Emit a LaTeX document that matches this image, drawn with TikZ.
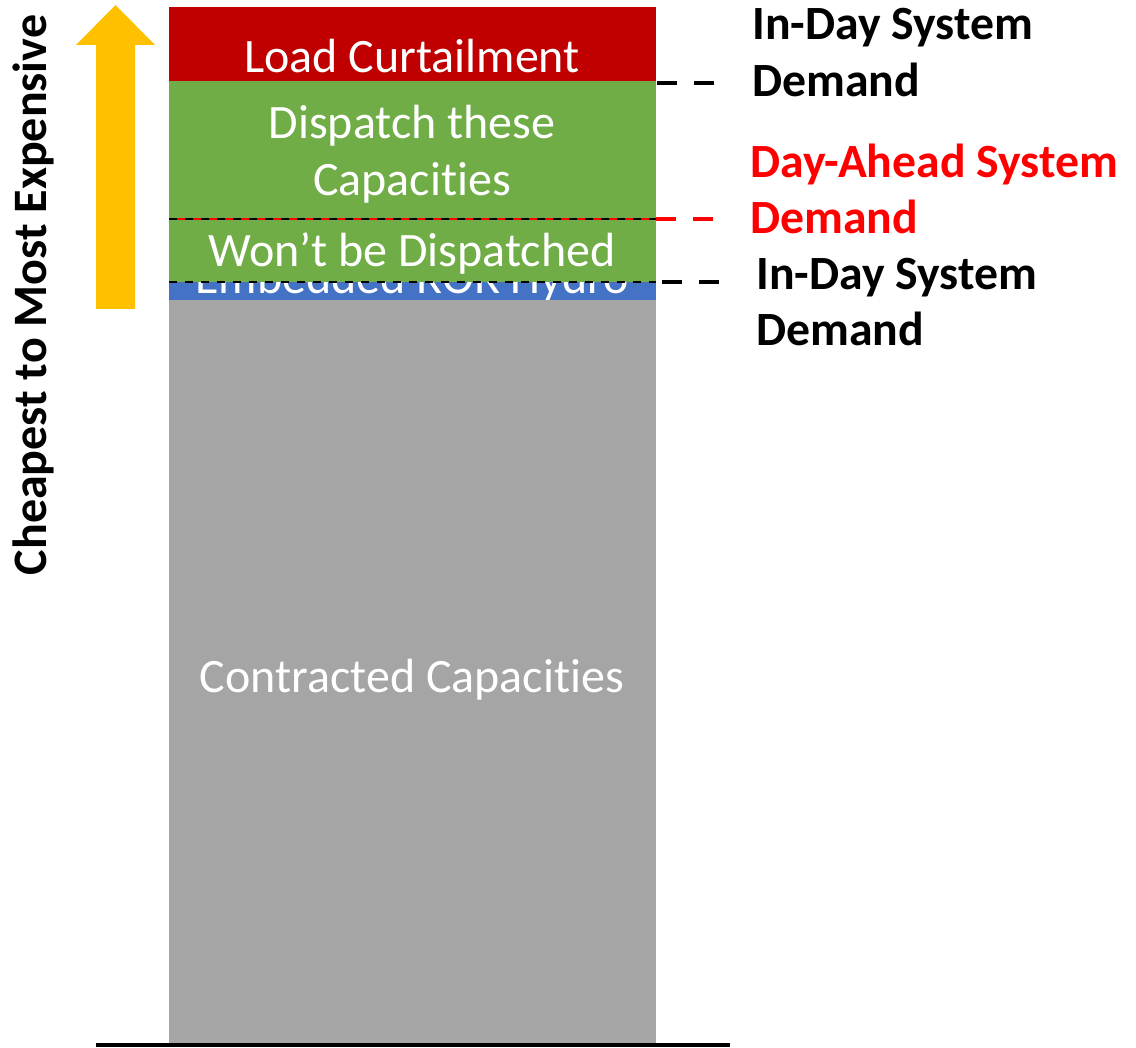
\documentclass[tikz,border=0pt]{standalone}
\usepackage{fontspec}
\setmainfont[Ligatures={NoCommon}]{Carlito}
\definecolor{cred}{HTML}{C00000}
\definecolor{cgreen}{HTML}{70AD47}
\definecolor{cblue}{HTML}{4472C4}
\definecolor{cgray}{HTML}{A5A5A5}
\definecolor{cyellow}{HTML}{FFC000}
\definecolor{tred}{HTML}{FF0000}
\begin{document}
\begin{tikzpicture}[x=0.75pt,y=-0.75pt,
  bartext/.style={text=white,font=\fontsize{36}{43}\selectfont,anchor=base,inner sep=0pt},
  lbl/.style={font=\bfseries\fontsize{35.8}{43}\selectfont,anchor=base west,inner sep=0pt},
  mk/.style={line width=3pt,dash pattern=on 15pt off 13pt}]
\useasboundingbox (0,0) rectangle (1136,1048);
% bar blocks
\fill[cgray] (169,300) rectangle (656,1045);
\fill[cblue] (169,282) rectangle (656,300);
\begin{scope}
\clip (169,282) rectangle (656,300);
\node[bartext] (ror) at (412,294) {Embedded ROR Hydro};
\end{scope}
\fill[cgreen] (169,219) rectangle (656,282);
\fill[cgreen] (169,81) rectangle (656,219);
\fill[cred] (169,7) rectangle (656,81);
% texts in bar
\node[bartext] (lc) at (412,73) {Load Curtailment};
\node[bartext] (d1) at (412,139) {Dispatch these};
\node[bartext] (d2) at (412,196) {Capacities};
\node[bartext] (wd) at (412,267) {Won’t be Dispatched};
\node[bartext] (cc) at (412,692) {Contracted Capacities};
% inner dashed lines
\draw[black,line width=0.9pt,dash pattern=on 6pt off 6pt] (169,219) -- (656,219);
\draw[tred,line width=0.9pt,dash pattern=on 6pt off 6pt,dash phase=6pt] (169,219) -- (656,219);
\draw[black,line width=0.9pt,dash pattern=on 6pt off 6pt] (169,282) -- (656,282);
% labels
\node[lbl] (l1a) at (752,40) {In-Day System};
\node[lbl] (l1b) at (752,97) {Demand};
\node[lbl,text=tred] (l2a) at (750,178) {Day-Ahead System};
\node[lbl,text=tred] (l2b) at (750,234) {Demand};
\node[lbl] (l3a) at (756,290) {In-Day System};
\node[lbl] (l3b) at (756,346) {Demand};
% markers
\coordinate (m1) at (657,83);
\coordinate (m2) at (656,219);
\coordinate (m3) at (662,282);
\draw[mk] (m1) -- ++(58,0);
\draw[mk,tred] (m2) -- ++(58,0);
\draw[mk] (m3) -- ++(58,0);
% base line
\draw[line width=3pt] (96,1045) -- (730,1045);
% yellow arrow
\fill[cyellow] (96,309) -- (96,45) -- (76,45) -- (115.5,5) -- (155,45) -- (135,45) -- (135,309) -- cycle;
\node[font=\bfseries\fontsize{36}{43}\selectfont,rotate=90,inner sep=0pt] (side) at (33,295) {Cheapest to Most Expensive};
\end{tikzpicture}
\end{document}
